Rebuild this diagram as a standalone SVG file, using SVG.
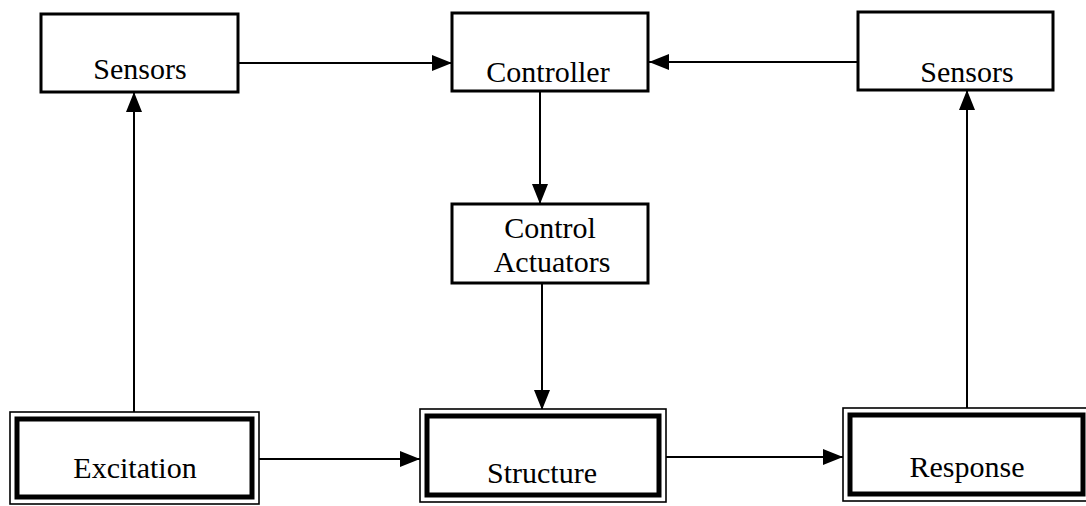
<svg xmlns="http://www.w3.org/2000/svg" width="1086" height="506" viewBox="0 0 1086 506">
  <defs>
    <marker id="arrow" viewBox="0 0 20 16" refX="20" refY="8" markerWidth="20" markerHeight="16" markerUnits="userSpaceOnUse" orient="auto">
      <path d="M0,0 L20,8 L0,16 Z" fill="#000"/>
    </marker>
  </defs>
  <style>
    .box { fill: #fff; stroke: #000; stroke-width: 3; }
    .outer { fill: #fff; stroke: #000; stroke-width: 1.6; }
    .inner { fill: none; stroke: #000; stroke-width: 5; }
    .label { font-family: "Liberation Serif", "Times New Roman", serif; font-size: 30px; fill: #000; text-anchor: middle; }
    .link { fill: none; stroke: #000; stroke-width: 2; marker-end: url(#arrow); }
  </style>
  <rect width="1086" height="506" fill="#fff"/>

  <!-- connectors -->
  <g id="connectors">
    <line class="link" x1="239" y1="63" x2="452" y2="63"/>
    <line class="link" x1="858" y1="62" x2="649" y2="62"/>
    <line class="link" x1="540" y1="91" x2="540" y2="204"/>
    <line class="link" x1="542" y1="283" x2="542" y2="410"/>
    <line class="link" x1="134" y1="412" x2="134" y2="92"/>
    <line class="link" x1="967" y1="408" x2="967" y2="90"/>
    <line class="link" x1="259" y1="459" x2="420" y2="459"/>
    <line class="link" x1="666" y1="457" x2="843" y2="457"/>
  </g>

  <!-- sensors feeding the controller from the excitation side -->
  <g id="sensors-left">
    <rect class="box" x="41" y="14" width="197" height="78"/>
    <text class="label" x="140" y="79">Sensors</text>
  </g>

  <g id="controller">
    <rect class="box" x="452" y="13" width="196" height="78"/>
    <text class="label" x="548" y="82">Controller</text>
  </g>

  <!-- sensors on the response side -->
  <g id="sensors-right">
    <rect class="box" x="858" y="12" width="195" height="78"/>
    <text class="label" x="967" y="82">Sensors</text>
  </g>

  <g id="control-actuators">
    <rect class="box" x="452" y="204" width="196" height="79"/>
    <text class="label" x="550" y="238">Control</text>
    <text class="label" x="552" y="272">Actuators</text>
  </g>

  <!-- double-framed blocks along the bottom -->
  <g id="excitation">
    <rect class="outer" x="10" y="412" width="249" height="92"/>
    <rect class="inner" x="17" y="419" width="235" height="78"/>
    <text class="label" x="135" y="478">Excitation</text>
  </g>

  <g id="structure">
    <rect class="outer" x="420" y="409" width="246" height="93"/>
    <rect class="inner" x="427" y="416" width="232" height="79"/>
    <text class="label" x="542" y="483">Structure</text>
  </g>

  <g id="response">
    <rect class="outer" x="843" y="408" width="246" height="93"/>
    <rect class="inner" x="850" y="415" width="233" height="79"/>
    <text class="label" x="967" y="477">Response</text>
  </g>
</svg>
